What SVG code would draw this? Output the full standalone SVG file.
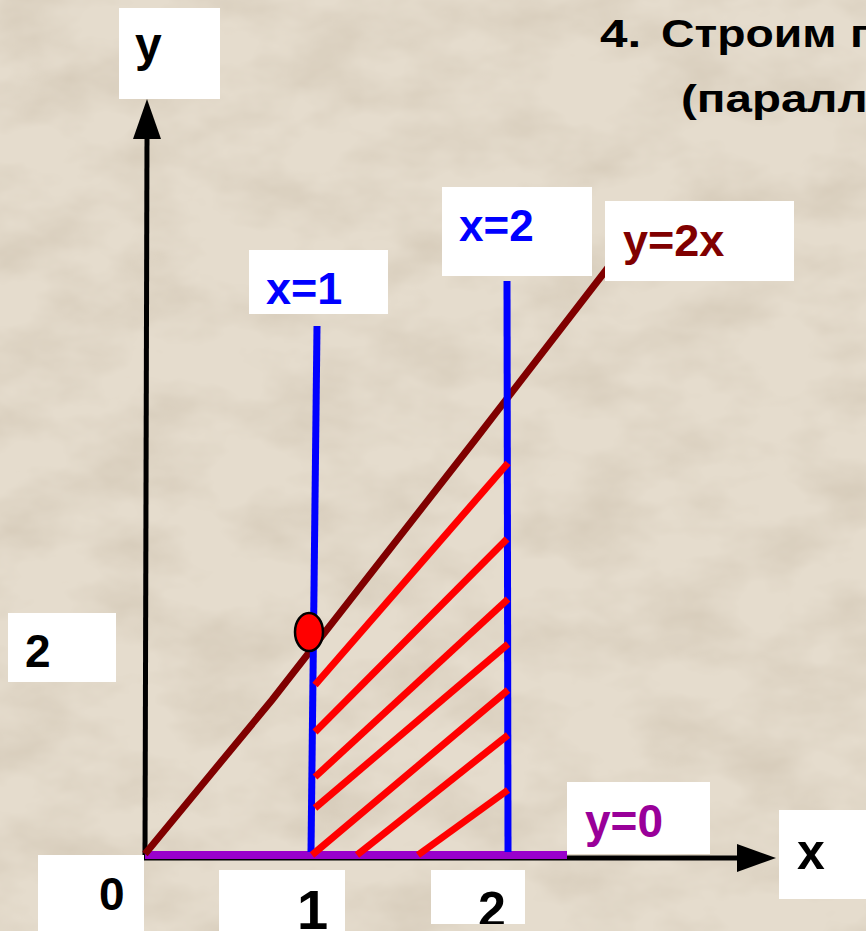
<svg xmlns="http://www.w3.org/2000/svg" width="866" height="931" viewBox="0 0 866 931">
  <defs>
    <filter id="paper" x="0" y="0" width="100%" height="100%" filterUnits="userSpaceOnUse">
      <feTurbulence type="fractalNoise" baseFrequency="0.011 0.018" numOctaves="4" seed="11" result="n"/>
      <feColorMatrix in="n" type="matrix" values="0 0 0 0 0.55  0 0 0 0 0.47  0 0 0 0 0.36  0.8 0 0 0 -0.3"/>
    </filter>
    <clipPath id="clip1"><rect x="219" y="870" width="126" height="61"/></clipPath>
    <clipPath id="clip2"><rect x="431" y="870" width="94" height="54"/></clipPath>
    <style>
      .lbl { font-family: "Liberation Sans", Arial, sans-serif; font-weight: bold; }
      .box { fill: #FFFFFF; }
      .blue { stroke: #0000FF; stroke-width: 7; fill: none; }
      .hatch { stroke: #FF0000; stroke-width: 7; fill: none; }
      .axis { stroke: #000000; stroke-width: 5; fill: none; }
    </style>
  </defs>

  <rect x="0" y="0" width="866" height="931" fill="#E5DCCD"/>
  <rect x="0" y="0" width="866" height="931" filter="url(#paper)"/>

  <g id="title" class="lbl" fill="#000000" font-size="38">
    <text transform="translate(600,47) scale(1.3,1)">4.</text>
    <text transform="translate(661,47) scale(1.22,1)">Строим</text>
    <text transform="translate(850,47) scale(1.22,1)">п</text>
    <text transform="translate(681,112) scale(1.25,1)">(паралл</text>
  </g>

  <g id="connectors">
    <line class="axis" x1="145" y1="856" x2="147" y2="136"/>
    <polygon points="147,99 133,139 161,139" fill="#000000"/>
    <line class="axis" x1="144" y1="858" x2="740" y2="858"/>
    <polygon points="776,858 737,844 737,872" fill="#000000"/>
    <line x1="145" y1="855" x2="567" y2="855" stroke="#9900CC" stroke-width="8"/>
    <polyline points="145,854 272,700 475,440 610,265" stroke="#800000" stroke-width="7" fill="none"/>
    <line class="blue" x1="317" y1="326" x2="311" y2="852"/>
    <line class="blue" x1="507" y1="281" x2="508" y2="852"/>
    <line class="hatch" x1="315" y1="685" x2="508" y2="463"/>
    <line class="hatch" x1="315" y1="732" x2="507" y2="539"/>
    <line class="hatch" x1="315" y1="777" x2="508" y2="599"/>
    <line class="hatch" x1="315" y1="808" x2="508" y2="644"/>
    <line class="hatch" x1="312" y1="855" x2="508" y2="690"/>
    <line class="hatch" x1="357" y1="855" x2="508" y2="735"/>
    <line class="hatch" x1="418" y1="855" x2="508" y2="790"/>
  </g>

  <g id="point">
    <ellipse cx="309" cy="632" rx="14" ry="19" fill="#FF0000" stroke="#000000" stroke-width="2.5"/>
  </g>

  <g id="label-y">
    <rect class="box" x="119" y="8" width="101" height="91"/>
    <text class="lbl" x="135" y="61" font-size="48" fill="#000000">y</text>
  </g>
  <g id="label-x1">
    <rect class="box" x="249" y="250" width="139" height="64"/>
    <text class="lbl" x="266" y="304" font-size="45" fill="#0000FF">x=1</text>
  </g>
  <g id="label-x2">
    <rect class="box" x="442" y="187" width="150" height="89"/>
    <text class="lbl" x="459" y="241" font-size="44" fill="#0000FF">x=2</text>
  </g>
  <g id="label-y2x">
    <rect class="box" x="605" y="201" width="189" height="80"/>
    <text class="lbl" x="623" y="256" font-size="45" fill="#800000">y=2x</text>
  </g>
  <g id="label-2y">
    <rect class="box" x="8" y="613" width="108" height="69"/>
    <text class="lbl" x="25" y="667" font-size="46" fill="#000000">2</text>
  </g>
  <g id="label-y0">
    <rect class="box" x="567" y="782" width="143" height="72"/>
    <text class="lbl" x="585" y="837" font-size="46" fill="#990099">y=0</text>
  </g>
  <g id="label-x">
    <rect class="box" x="779" y="810" width="87" height="89"/>
    <text class="lbl" x="797" y="869" font-size="50" fill="#000000">x</text>
  </g>
  <g id="label-0">
    <rect class="box" x="38" y="855" width="106" height="76"/>
    <text class="lbl" x="99" y="910" font-size="46" fill="#000000">0</text>
  </g>
  <g id="label-1">
    <rect class="box" x="219" y="870" width="126" height="61"/>
    <text class="lbl" x="297" y="929" font-size="56" fill="#000000" clip-path="url(#clip1)">1</text>
  </g>
  <g id="label-2x">
    <rect class="box" x="431" y="870" width="94" height="54"/>
    <text class="lbl" x="478" y="927" font-size="50" fill="#000000" clip-path="url(#clip2)">2</text>
  </g>
</svg>
